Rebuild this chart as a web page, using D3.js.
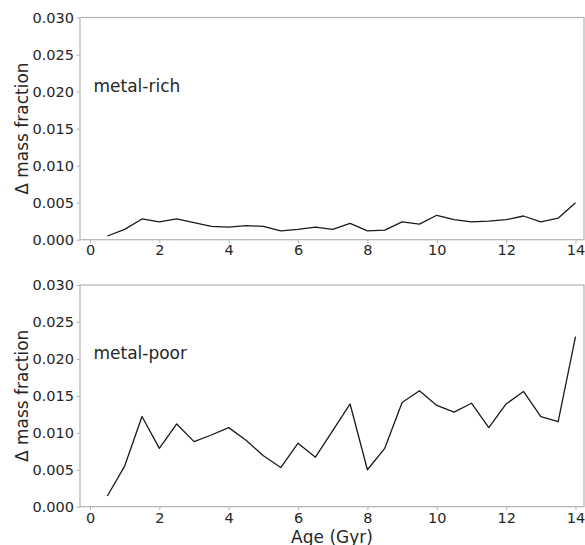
<!DOCTYPE html>
<html>
<head>
<meta charset="utf-8">
<script src="https://cdn.jsdelivr.net/npm/d3@7"></script>
<style>
  html, body { margin: 0; padding: 0; background: #fff; }
  svg { display: block; }
  text { font-family: "DejaVu Sans", sans-serif; fill: #262626; }
</style>
</head>
<body>
<div id="chart"></div>
<script>
// ---- data ----
const ages = [0.5, 1.0, 1.5, 2.0, 2.5, 3.0, 3.5, 4.0, 4.5, 5.0, 5.5, 6.0, 6.5, 7.0,
              7.5, 8.0, 8.5, 9.0, 9.5, 10.0, 10.5, 11.0, 11.5, 12.0, 12.5, 13.0, 13.5, 14.0];
const metalRich = [0.0005, 0.0014, 0.0028, 0.0024, 0.0028, 0.0023, 0.0018, 0.0017, 0.0019, 0.0018,
                   0.0012, 0.0014, 0.0017, 0.0014, 0.0022, 0.0012, 0.0013, 0.0024, 0.0021, 0.0033,
                   0.0027, 0.0024, 0.0025, 0.0027, 0.0032, 0.0024, 0.0029, 0.0050];
const metalPoor = [0.00145, 0.0055, 0.0122, 0.0079, 0.0112, 0.0088, 0.0097, 0.0107, 0.0090, 0.0069,
                   0.0053, 0.0086, 0.0067, 0.0103, 0.0139, 0.0050, 0.0079, 0.0141, 0.0157, 0.0137,
                   0.0128, 0.0140, 0.0107, 0.0139, 0.0156, 0.0122, 0.0115, 0.0230];
const xTicks = [0, 2, 4, 6, 8, 10, 12, 14];
const yTicks = [0.000, 0.005, 0.010, 0.015, 0.020, 0.025, 0.030];
const panelLabels = ["metal-rich", "metal-poor"];
const yLabel = "\u0394 mass fraction";
const xLabel = "Age (Gyr)";

// ---- layout ----
const W = 585, H = 545;
const left = 80, right = 584;
const panels = [
  { top: 17.5, bottom: 239.7, values: metalRich, label: panelLabels[0] },
  { top: 285, bottom: 506.7, values: metalPoor, label: panelLabels[1] }
];
const spineColor = "#b3b3b3";

const svg = d3.select("#chart").append("svg")
  .attr("width", W).attr("height", H);

const x = d3.scaleLinear().domain([-0.288, 14.245]).range([left, right]);

panels.forEach((p, i) => {
  const y = d3.scaleLinear().domain([0, 0.030]).range([p.bottom, p.top]);
  const g = svg.append("g");

  // frame
  g.append("rect")
    .attr("x", left).attr("y", p.top)
    .attr("width", right - left).attr("height", p.bottom - p.top)
    .attr("fill", "none").attr("stroke", spineColor).attr("stroke-width", 1.2);

  // y axis
  const yAxis = d3.axisLeft(y).tickValues(yTicks).tickFormat(d3.format(".3f"))
    .tickSize(3.5).tickPadding(2.5);
  const ya = g.append("g").attr("transform", `translate(${left},0)`).call(yAxis);
  ya.select(".domain").remove();
  ya.selectAll(".tick line").attr("stroke", spineColor).attr("stroke-width", 1);
  ya.selectAll(".tick text").attr("font-size", "14.5px").attr("fill", "#262626")
    .attr("font-family", "DejaVu Sans, sans-serif");

  // x axis
  const xAxis = d3.axisBottom(x).tickValues(xTicks).tickFormat(d3.format("d"))
    .tickSize(3.5).tickPadding(i === 0 ? 2 : 3);
  const xa = g.append("g").attr("transform", `translate(0,${p.bottom})`).call(xAxis);
  xa.select(".domain").remove();
  xa.selectAll(".tick line").attr("stroke", spineColor).attr("stroke-width", 1);
  xa.selectAll(".tick text").attr("font-size", "14.5px").attr("fill", "#262626")
    .attr("font-family", "DejaVu Sans, sans-serif");

  // line
  const line = d3.line().x((d, j) => x(ages[j])).y(d => y(d));
  g.append("path").datum(p.values)
    .attr("d", line)
    .attr("fill", "none").attr("stroke", "#1a1a1a").attr("stroke-width", 1.3)
    .attr("stroke-linejoin", "round");

  // panel label
  g.append("text")
    .attr("x", x(0.1)).attr("y", y(0.020))
    .attr("font-size", "17px")
    .text(p.label);

  // y label
  g.append("text")
    .attr("transform", `translate(28,${(p.top + p.bottom) / 2}) rotate(-90)`)
    .attr("text-anchor", "middle")
    .attr("font-size", "17px")
    .text(yLabel);
});

// x label
svg.append("text")
  .attr("x", (left + right) / 2).attr("y", 542.5)
  .attr("text-anchor", "middle")
  .attr("font-size", "17px")
  .text(xLabel);
</script>
</body>
</html>
